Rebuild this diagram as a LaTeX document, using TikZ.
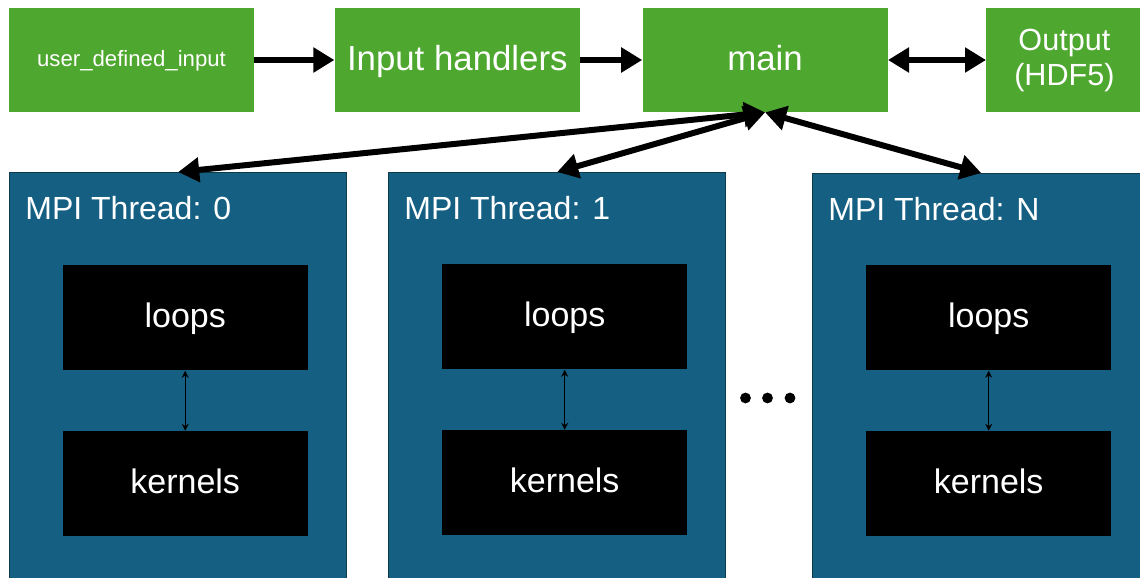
\documentclass[tikz,border=0pt]{standalone}
\usepackage{fontspec}
\setmainfont{Liberation Sans}
\usepackage{xcolor}
\usetikzlibrary{positioning, arrows.meta, calc}

\definecolor{stagegreen}{HTML}{4EA72E}
\definecolor{threadblue}{HTML}{156082}
\definecolor{threadedge}{HTML}{0E3A50}

\begin{document}
\begin{tikzpicture}[
		x=0.5pt, y=-0.5pt,
		node distance=40pt,
		every node/.style={text=white, inner sep=0pt},
		stage/.style={rectangle, fill=stagegreen, minimum width=122.5pt, minimum height=52pt, text height=14pt, text depth=4pt, font=\fontsize{17.4}{20}\selectfont},
		thread/.style={rectangle, fill=threadblue, draw=threadedge, line width=0.7pt, minimum width=168.5pt, minimum height=212pt, anchor=north west},
		threadname/.style={anchor=base west, font=\fontsize{16}{19}\selectfont},
		work/.style={rectangle, fill=black, minimum width=122.5pt, minimum height=52.5pt, text height=14pt, text depth=4pt, font=\fontsize{17}{20}\selectfont},
		pointer/.style={-{Triangle[length=10.5pt, width=12pt]}, line width=3pt},
		link/.style={{Triangle[length=10.5pt, width=12pt]}-{Triangle[length=10.5pt, width=12pt]}, line width=3pt},
		call/.style={{Stealth[length=3.5pt, width=3.5pt]}-{Stealth[length=3.5pt, width=3.5pt]}, line width=0.65pt}
		]
		
		\useasboundingbox (0,0) rectangle (1140,578);
		\clip (0,0) rectangle (1140,578);
		
		% Input chain
		\node[stage, text height=9pt, text depth=3pt, font=\fontsize{11.1}{13}\selectfont] (udi) at (131.5,60) {user\_defined\_input};
		\node[stage, right=40pt of udi] (handlers) {Input handlers};
		\node[stage, right=31pt of handlers] (main) {main};
		\node[stage, right=49pt of main, minimum width=78pt, text height=, text depth=, align=center, font=\fontsize{15.3}{17.5}\selectfont] (output) {Output\\(HDF5)};
		
		% MPI threads
		\node[thread] (t0) at (9,172) {};
		\node[thread] (t1) at (388,172) {};
		\node[thread] (tN) at (812,173) {};
		
		\node[threadname] (name0) at ($(t0.north west)+(16,47)$) {MPI Thread: 0};
		\node[threadname] (name1) at ($(t1.north west)+(16,47)$) {MPI Thread: 1};
		\node[threadname] (nameN) at ($(tN.north west)+(16,47)$) {MPI Thread: N};
		
		% Loops and kernels
		\node[work, anchor=north] (loops0) at ($(t0.north)+(7,93)$) {loops};
		\node[work, below=30pt of loops0] (kernels0) {kernels};
		\node[work, anchor=north] (loops1) at ($(t1.north)+(7.5,92)$) {loops};
		\node[work, below=30pt of loops1] (kernels1) {kernels};
		\node[work, anchor=north] (loopsN) at ($(tN.north)+(7.5,92)$) {loops};
		\node[work, below=30pt of loopsN] (kernelsN) {kernels};
		
		% Ellipsis between threads
		\fill (745.5,398) circle (2.7pt) (767.5,398) circle (2.7pt) (790,398) circle (2.7pt);
		
		% Data flow
		\draw[pointer] (udi) -- (handlers);
		\draw[pointer] (handlers) -- (main);
		\draw[link] (main) -- (output);
		\draw[link] (main.south) -- (t0.north);
		\draw[link] (main.south) -- (t1.north);
		\draw[link] (main.south) -- (tN.north);
		
		\draw[call] (loops0) -- (kernels0);
		\draw[call] (loops1) -- (kernels1);
		\draw[call] (loopsN) -- (kernelsN);
		
	\end{tikzpicture}
\end{document}
